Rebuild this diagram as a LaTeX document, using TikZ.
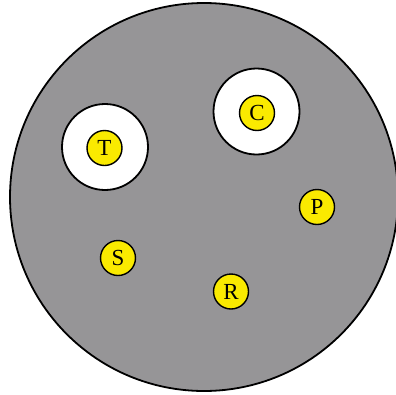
\documentclass[tikz,border=0pt]{standalone}
\usepackage{fontspec}
\setmainfont{Liberation Serif}
\usepackage{xcolor}
\usepackage{tikz}
\usetikzlibrary{positioning}
\definecolor{dishgray}{RGB}{150,149,151}
\definecolor{markyellow}{RGB}{250,234,0}

\tikzset{
  dish/.style={circle, draw=black, fill=dishgray, line width=1.8pt, inner sep=0pt, minimum size=388pt},
  halo/.style={circle, draw=black, fill=white, line width=1.8pt, inner sep=0pt, minimum size=86pt},
  marker/.style={circle, draw=black, fill=markyellow, line width=1.4pt, inner sep=0pt, minimum size=35pt,
                 font=\fontsize{23}{23}\selectfont}
}

\begin{document}
\begin{tikzpicture}[x=1pt, y=-1pt]
\useasboundingbox (0,0) rectangle (396,394);

% ---------------- plate ----------------
\node[dish] (plate) at (204,197) {};

% ---------------- clear zones ----------------
\node[halo] (haloT) at (105,147) {};
\node[halo] (haloC) at (256.5,111.5) {};

% ---------------- discs ----------------
\node[marker] (T) at (104.5,148) {T};
\node[marker] (C) at (257,113) {C};
\node[marker] (P) at (317,207) {P};
\node[marker] (S) at (118,258) {S};
\node[marker] (R) at (231,291.5) {R};

\end{tikzpicture}
\end{document}
